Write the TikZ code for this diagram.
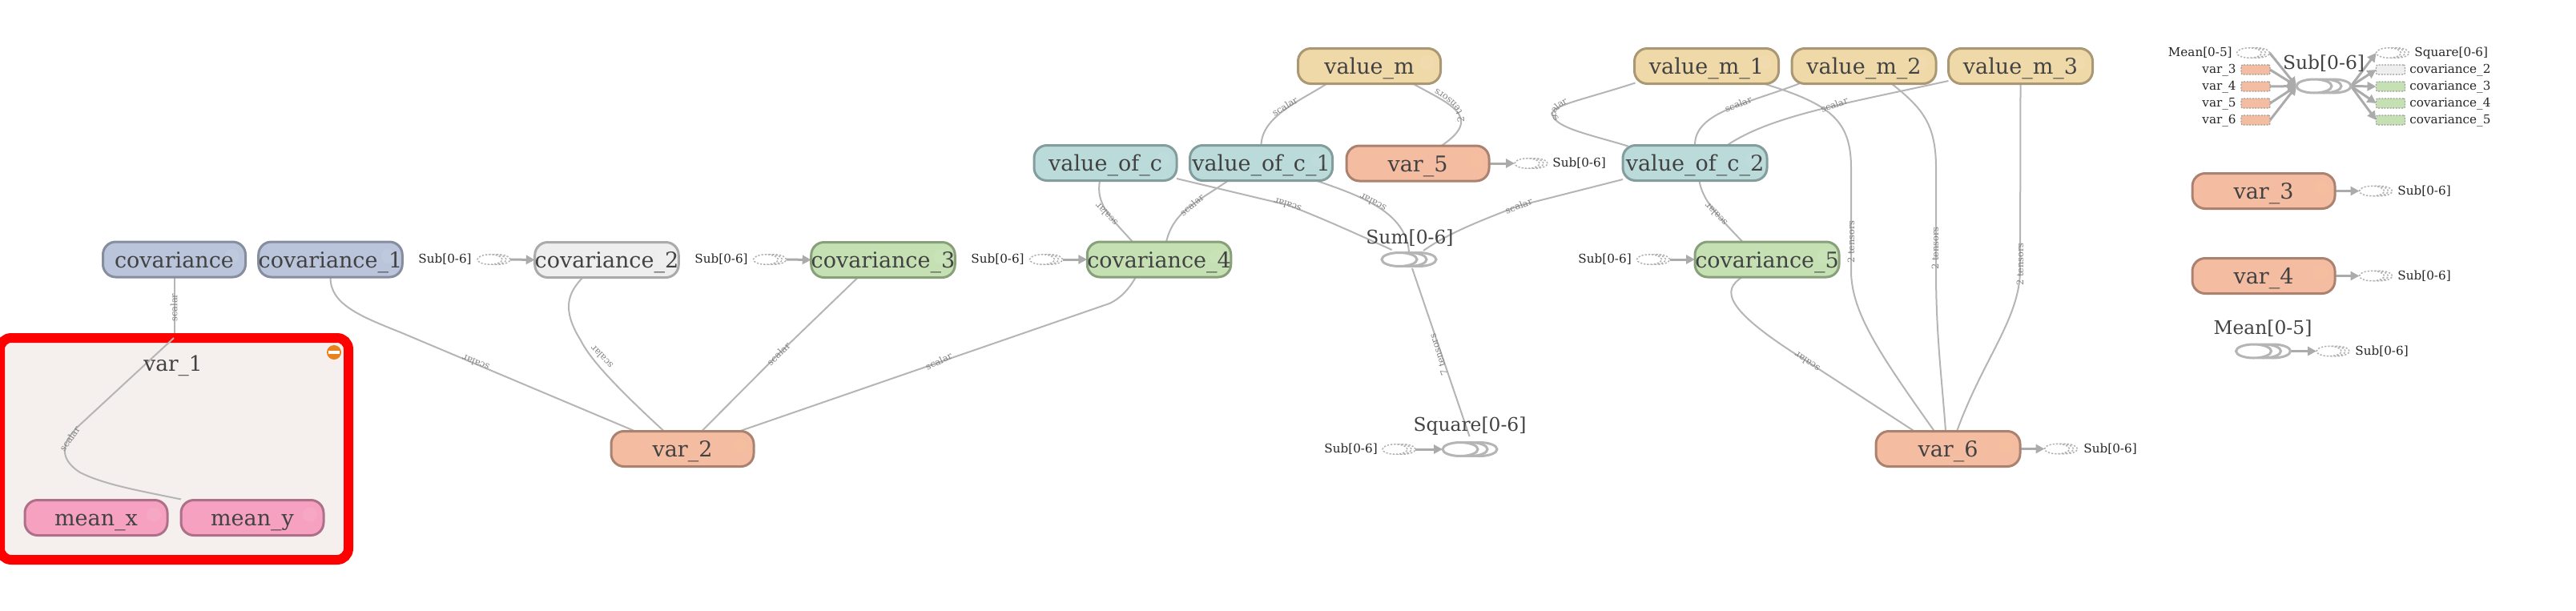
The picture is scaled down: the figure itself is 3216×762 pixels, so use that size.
\documentclass[tikz,border=0pt]{standalone}
\usepackage{fontspec}
\setmainfont{DejaVu Serif}
\usetikzlibrary{arrows.meta,shapes.geometric,backgrounds,decorations.text}
\definecolor{edgec}{HTML}{B5B5B5}
\definecolor{flowc}{HTML}{ABABAB}
\definecolor{elabc}{HTML}{7F7F7F}
\definecolor{txtc}{HTML}{424242}
\definecolor{ghostc}{HTML}{B0B0B0}
\newcommand\elf{\fontsize{5.7pt}{6pt}\selectfont\color{elabc}}
\tikzset{
  box/.style={rectangle,rounded corners=8pt,minimum width=89pt,minimum height=22pt,inner sep=0pt,outer sep=0pt,line width=1.5pt,text=txtc,
    font=\fontsize{13.5pt}{15pt}\selectfont,text height=12pt,text depth=2pt},
  bluebox/.style={box,fill={rgb,255:red,186;green,197;blue,220},draw={rgb,255:red,133;green,141;blue,159}},
  greybox/.style={box,fill={rgb,255:red,238;green,238;blue,238},draw={rgb,255:red,170;green,170;blue,170}},
  greenbox/.style={box,fill={rgb,255:red,197;green,225;blue,180},draw={rgb,255:red,135;green,160;blue,122}},
  varbox/.style={box,fill={rgb,255:red,244;green,189;blue,162},draw={rgb,255:red,171;green,130;blue,112}},
  tealbox/.style={box,fill={rgb,255:red,187;green,218;blue,218},draw={rgb,255:red,131;green,157;blue,157}},
  tanbox/.style={box,fill={rgb,255:red,240;green,217;blue,168},draw={rgb,255:red,170;green,152;blue,116}},
  pinkbox/.style={box,fill={rgb,255:red,246;green,161;blue,191},draw={rgb,255:red,173;green,112;blue,136}},
  edge/.style={draw=edgec,line width=1pt},
  flow/.style={draw=flowc,line width=1.5pt,-{Triangle[length=5.5pt,width=5.5pt]}},
  elab/.style={font=\elf,inner sep=0pt},
  small/.style={font=\fontsize{7.6pt}{8pt}\selectfont,text=black!85,inner sep=0pt,text height=6.3pt,text depth=1.4pt},
  title/.style={font=\fontsize{11.7pt}{13pt}\selectfont,text=txtc,inner sep=0pt},
  opell/.style={ellipse,draw=edgec,fill=white,line width=1.5pt,minimum width=22pt,minimum height=8.5pt,inner sep=0pt,outer sep=0pt},
  ghell/.style={ellipse,draw=ghostc,fill=white,line width=.75pt,dash pattern=on 1.1pt off 1pt,minimum width=15.5pt,minimum height=6.2pt,inner sep=0pt,outer sep=0pt},
  legrect/.style={rectangle,rounded corners=1pt,draw=black!38,line width=.6pt,dash pattern=on 1pt off .8pt,minimum width=18pt,minimum height=6pt,inner sep=0pt,outer sep=0pt},
  curved/.style={decorate,decoration={text along path,text align=center,raise=-2pt,text={#1}}}
}
\newcommand\opstack[3]{%
  \node[opell] (#1c) at ({#2+12},#3) {};
  \node[opell] (#1b) at (#2,#3) {};
  \node[opell] (#1) at ({#2-12},#3) {};
}
\newcommand\ghoststack[3]{%
  \node[ghell] (#1c) at ({#2+5},#3) {};
  \node[ghell] (#1b) at (#2,#3) {};
  \node[ghell] (#1) at ({#2-5},#3) {};
}
\begin{document}
\begin{tikzpicture}[x=0.5pt,y=-0.5pt]
\useasboundingbox (0,0) rectangle (3216,762);
% main nodes
\node[bluebox] (cov) at (217.5,324) {covariance};
\node[bluebox] (covA) at (412.5,324) {covariance\_1};
\node[greybox] (covB) at (757.5,324.5) {covariance\_2};
\node[greenbox] (covC) at (1102.5,324.5) {covariance\_3};
\node[greenbox] (covD) at (1447,324) {covariance\_4};
\node[greenbox,minimum width=90pt] (covE) at (2206,324) {covariance\_5};
\node[varbox] (varB) at (852,560.5) {var\_2};
\node[varbox] (varC) at (2826,238.5) {var\_3};
\node[varbox] (varD) at (2826,344.5) {var\_4};
\node[varbox] (varE) at (1770,204) {var\_5};
\node[varbox,minimum width=90pt] (varF) at (2432,560.5) {var\_6};
\node[tealbox] (valc) at (1380,203.5) {value\_of\_c};
\node[tealbox] (valcA) at (1574.5,203.5) {value\_of\_c\_1};
\node[tealbox,minimum width=90pt] (valcB) at (2116,203.5) {value\_of\_c\_2};
\node[tanbox] (valm) at (1709.5,82.5) {value\_m};
\node[tanbox,minimum width=90pt] (valmA) at (2130.5,82.5) {value\_m\_1};
\node[tanbox,minimum width=90pt] (valmB) at (2327,82.5) {value\_m\_2};
\node[tanbox,minimum width=90pt] (valmC) at (2522.5,82.5) {value\_m\_3};
\node[pinkbox] (meanx) at (120,646.5) {mean\_x};
\node[pinkbox] (meany) at (315,646.5) {mean\_y};
% faint expand markers
\foreach \n in {cov,covA,covB,covC,covD,covE,valc,valcA,valcB,valm,valmA,valmB,valmC,meanx,meany}
  \fill[white,opacity=.07] ([shift={(72,-4)}]\n.center) circle (9);
\foreach \n in {varB,varC,varD,varE,varF}
  \fill[orange!45!white,opacity=.18] ([shift={(72,-4)}]\n.center) circle (9);
% operator stacks
\opstack{sum}{1759}{324}
\opstack{sq}{1835}{561}
\opstack{mean}{2825.5}{438.5}
\opstack{sub}{2901}{107.5}
\node[title] (sumt) at (1760,297) {Sum[0-6]};
\node[title] (sqt) at (1835,532.5) {Square[0-6]};
\node[title] (meant) at (2825,410) {Mean[0-5]};
\node[title] (subt) at (2901,79.5) {Sub[0-6]};
% group title + icon
\node[anchor=base,font=\fontsize{13.2pt}{15pt}\selectfont,text=txtc,inner sep=0pt] (vart) at (216,463) {var\_1};
\node[circle,fill={rgb,255:red,232;green,130;blue,30},minimum size=9pt,inner sep=0pt] (minus) at (417,440) {};
\node[rectangle,fill=white,minimum width=6.8pt,minimum height=1.8pt,inner sep=0pt] (minusbar) at (417,440) {};
% ghost stacks and labels
\ghoststack{gB}{616.5}{324}
\ghoststack{gC}{961}{324}
\ghoststack{gD}{1306}{324}
\ghoststack{gE}{2064}{324}
\ghoststack{gvE}{1911.5}{204}
\ghoststack{gsq}{1746.5}{561}
\ghoststack{gvF}{2573}{560.5}
\ghoststack{gvC}{2966}{238.5}
\ghoststack{gvD}{2966}{344.5}
\ghoststack{gmean}{2912.5}{438.5}
\node[small,anchor=west] (tB) at (522,323.5) {Sub[0-6]};
\node[small,anchor=west] (tC) at (867,323.5) {Sub[0-6]};
\node[small,anchor=west] (tD) at (1212,323.5) {Sub[0-6]};
\node[small,anchor=west] (tE) at (1970,323.5) {Sub[0-6]};
\node[small,anchor=west] (tvE) at (1938,204) {Sub[0-6]};
\node[small,anchor=west] (tsq) at (1653,560.5) {Sub[0-6]};
\node[small,anchor=west] (tvF) at (2601,560.5) {Sub[0-6]};
\node[small,anchor=west] (tvC) at (2993,238.5) {Sub[0-6]};
\node[small,anchor=west] (tvD) at (2993,344.5) {Sub[0-6]};
\node[small,anchor=west] (tmean) at (2940,438.5) {Sub[0-6]};
% legend of Sub
\ghoststack{lm}{2813}{66}
\ghoststack{ls}{2987}{66}
\node[legrect,fill={rgb,255:red,244;green,189;blue,162}] (lC) at (2816,87) {};
\node[legrect,fill={rgb,255:red,244;green,189;blue,162}] (lD) at (2816,108) {};
\node[legrect,fill={rgb,255:red,244;green,189;blue,162}] (lE) at (2816,129) {};
\node[legrect,fill={rgb,255:red,244;green,189;blue,162}] (lF) at (2816,150) {};
\node[legrect,fill={rgb,255:red,238;green,238;blue,238}] (rB) at (2984.5,87) {};
\node[legrect,fill={rgb,255:red,197;green,225;blue,180}] (rC) at (2984.5,108) {};
\node[legrect,fill={rgb,255:red,197;green,225;blue,180}] (rD) at (2984.5,129) {};
\node[legrect,fill={rgb,255:red,197;green,225;blue,180}] (rE) at (2984.5,150) {};
\node[small,anchor=east] (tlm) at (2787,66) {Mean[0-5]};
\node[small,anchor=east] (tlC) at (2792,87) {var\_3};
\node[small,anchor=east] (tlD) at (2792,108) {var\_4};
\node[small,anchor=east] (tlE) at (2792,129) {var\_5};
\node[small,anchor=east] (tlF) at (2792,150) {var\_6};
\node[small,anchor=west] (trs) at (3014,66) {Square[0-6]};
\node[small,anchor=west] (trB) at (3008,87) {covariance\_2};
\node[small,anchor=west] (trC) at (3008,108) {covariance\_3};
\node[small,anchor=west] (trD) at (3008,129) {covariance\_4};
\node[small,anchor=west] (trE) at (3008,150) {covariance\_5};
% edge labels
\node[elab,rotate=90] (e1) at (217,384) {scalar};
\node[elab,rotate=55] (e2) at (87,548) {scalar};
\node[elab,rotate=158] (e3) at (594,453) {scalar};
\node[elab,rotate=133] (e4) at (751,446) {scalar};
\node[elab,rotate=44] (e5) at (972,442) {scalar};
\node[elab,rotate=25] (e6) at (1172,451) {scalar};
\node[elab,rotate=32] (e7) at (1604,133) {scalar};
\node[elab,rotate=133] (e8) at (1381,268) {scalar};
\node[elab,rotate=40] (e9) at (1488,256) {scalar};
\node[elab,rotate=163] (e10) at (1607.5,256) {scalar};
\node[elab,rotate=153] (e11) at (1714,253) {scalar};
\node[elab,rotate=21] (e12) at (1896,257) {scalar};
\node[elab,rotate=21] (e13) at (2170,130) {scalar};
\node[elab,rotate=20] (e14) at (2290,131) {scalar};
\node[elab,rotate=133] (e15) at (2142,268) {scalar};
\node[elab,rotate=146] (e16) at (2256,452) {scalar};
\node[elab,rotate=90] (e17) at (2311,302) {2 tensors};
\node[elab,rotate=90] (e18) at (2416,310) {2 tensors};
\node[elab,rotate=90] (e19) at (2522,330) {2 tensors};
\node[elab,rotate=107.5] (e20) at (1796,443) {7 tensors};
% curved labels
\path[curved={|\elf|2 tensors}] (1822,160) .. controls (1830,140) and (1812,125) .. (1785,110);
\path[curved={|\elf|scalar}] (1950,154) .. controls (1934,145) and (1932,136) .. (1962,122);
\begin{scope}[on background layer]
  \node[rectangle,draw=red,fill={rgb,255:red,245;green,240;blue,238},line width=6pt,rounded corners=7pt,minimum width=217.5pt,minimum height=138.5pt,inner sep=0pt,outer sep=0pt] (frame) at (217.5,560.5) {};
  \draw[edge] (cov.south) -- (217.5,416);
  \draw[edge] (217,422) -- (97,533) .. controls (78,552) and (72,572) .. (100,590) .. controls (130,605) and (170,612) .. ([shift={(-89,-1)}]meany.north);
  \draw[edge] (covA.south) .. controls (412,380) and (450,395) .. (500,415) -- ([shift={(-59,0)}]varB.north);
  \draw[edge] ([shift={(-30,0)}]covB.south) .. controls (710,365) and (700,385) .. (725,425) .. controls (735,445) and (760,475) .. ([shift={(-23,0)}]varB.north);
  \draw[edge] ([shift={(-31.5,0)}]covC.south) -- (972,442) -- ([shift={(24,0)}]varB.north);
  \draw[edge] ([shift={(-29,0)}]covD.south) .. controls (1410,360) and (1400,372) .. (1385,379) -- ([shift={(71,0)}]varB.north);
  \draw[edge] ([shift={(-53,0)}]valm.south) .. controls (1625,125) and (1575,145) .. (valcA.north);
  \draw[edge] ([shift={(54.5,0)}]valm.south) .. controls (1805,128) and (1855,145) .. ([shift={(29.5,0)}]varE.north);
  \draw[edge] ([shift={(-7,0)}]valc.south) .. controls (1368,255) and (1385,270) .. ([shift={(-33,0)}]covD.north);
  \draw[edge] ([shift={(-41,0)}]valcA.south) .. controls (1490,255) and (1465,265) .. ([shift={(9,0)}]covD.north);
  \draw[edge] (valc.east|-0,223) -- (1607.5,256) .. controls (1650,272) and (1700,295) .. (1737.6,312);
  \draw[edge] ([shift={(68.5,0)}]valcA.south) .. controls (1700,245) and (1755,265) .. ([shift={(0,-1)}]sumb.north);
  \draw[edge] (valcB.west|-0,224) -- (1896,257) .. controls (1850,275) and (1810,290) .. (1777,313);
  \draw[edge] (1763,335) -- ([shift={(-4,-10)}]sq.north east);
  \draw[edge] ([shift={(-89,-1)}]valmA.south) .. controls (1975,125) and (1935,132) .. (1938,143) .. controls (1942,160) and (1985,168) .. ([shift={(-83.5,1)}]valcB.north);
  \draw[edge] ([shift={(-81,0)}]valmB.south) .. controls (2180,130) and (2115.5,140) .. (valcB.north);
  \draw[edge] (valmC.west|-0,101) .. controls (2300,130) and (2210,145) .. (valcB.north-|2156,0);
  \draw[edge] ([shift={(5.5,0)}]valcB.south) .. controls (2125,250) and (2145,270) .. ([shift={(-30.5,0)}]covE.north);
  \draw[edge] ([shift={(71.5,0)}]valmA.south) .. controls (2285,130) and (2311,150) .. (2311,210) -- (2311,340) .. controls (2312,390) and (2345,440) .. ([shift={(-17,0)}]varF.north);
  \draw[edge] ([shift={(34.5,0)}]valmB.south) .. controls (2400,135) and (2417,155) .. (2417,210) -- (2417,340) .. controls (2417,420) and (2425,480) .. ([shift={(-3,0)}]varF.north);
  \draw[edge] (valmC.south) -- (2522,340) .. controls (2520,400) and (2475,450) .. ([shift={(11,0)}]varF.north);
  \draw[edge] ([shift={(-31,0)}]covE.south) .. controls (2150,362) and (2150,385) .. (2254,450) -- ([shift={(-42,0)}]varF.north);
  % flows
  \draw[flow] (gBc.east) -- (covB.west);
  \draw[flow] (gCc.east) -- (covC.west);
  \draw[flow] (gDc.east) -- (covD.west);
  \draw[flow] (gEc.east) -- (covE.west);
  \draw[flow] (varE.east) -- (gvE.west);
  \draw[flow] (varF.east) -- (gvF.west);
  \draw[flow] (varC.east) -- (gvC.west);
  \draw[flow] (varD.east) -- (gvD.west);
  \draw[flow] (gsqc.east) -- (sq.west);
  \draw[flow] (meanc.east) -- (gmean.west);
  \draw[flow] (lmc.east) -- (sub.west);
  \draw[flow] (lC.east) -- (sub.west);
  \draw[flow] (lD.east) -- (sub.west);
  \draw[flow] (lE.east) -- (sub.west);
  \draw[flow] (lF.east) -- (sub.west);
  \draw[flow] (subc.east) -- (ls.west);
  \draw[flow] (subc.east) -- (rB.west);
  \draw[flow] (subc.east) -- (rC.west);
  \draw[flow] (subc.east) -- (rD.west);
  \draw[flow] (subc.east) -- (rE.west);
\end{scope}
\end{tikzpicture}
\end{document}
